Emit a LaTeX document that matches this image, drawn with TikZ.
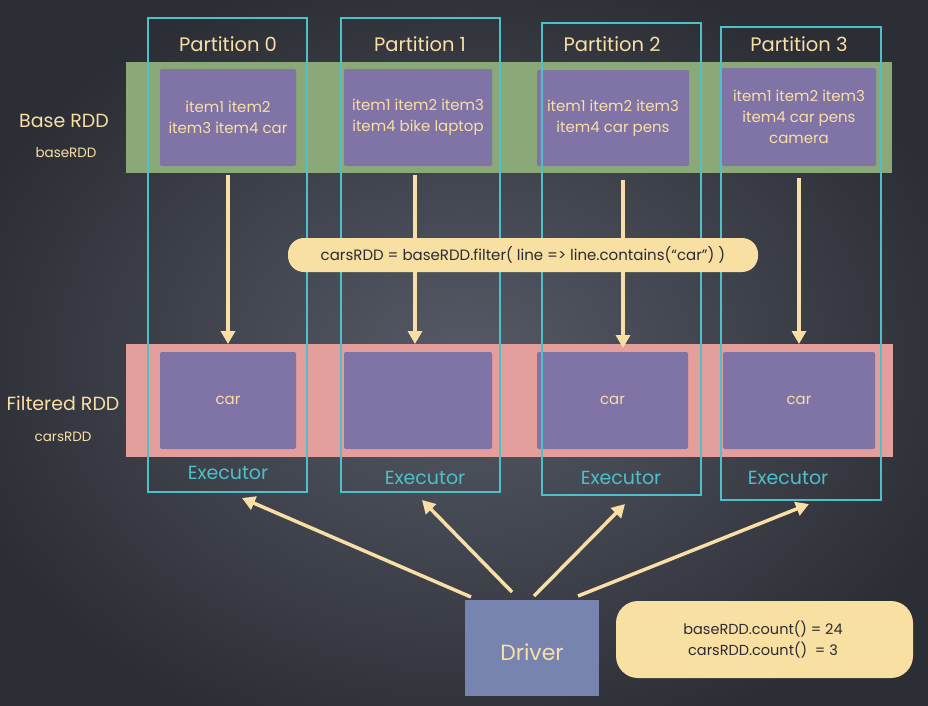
\documentclass[tikz,border=0pt]{standalone}
\usepackage{fontspec}
\setmainfont{Poppins}
\usetikzlibrary{arrows.meta}
\definecolor{bgin}{HTML}{555A66}
\definecolor{bgout}{HTML}{2C2E35}
\definecolor{greenc}{HTML}{8AA878}
\definecolor{redc}{HTML}{E49E9C}
\definecolor{cellc}{HTML}{8073A6}
\definecolor{cyanc}{HTML}{4DC0C9}
\definecolor{ytext}{HTML}{F9DFA5}
\definecolor{yfill}{HTML}{F8DFA2}
\definecolor{darktext}{HTML}{2B2B35}
\definecolor{drivec}{HTML}{7884B0}
\begin{document}
\begin{tikzpicture}[x=1pt,y=-1pt,
  band/.style={inner sep=0pt, outer sep=0pt, anchor=north west},
  cell/.style={fill=cellc, rounded corners=2pt, inner sep=0pt, outer sep=0pt, anchor=north west, align=center, text=ytext, font=\fontsize{15}{21}\selectfont},
  col/.style={draw=cyanc, line width=2.7pt, inner sep=0pt, outer sep=0pt, anchor=north west},
  ptitle/.style={text=ytext, font=\fontsize{19.5}{22}\selectfont},
  exlabel/.style={text=cyanc, font=\fontsize{19}{22}\selectfont},
  sidebig/.style={text=ytext, font=\fontsize{19}{22}\selectfont},
  sidesmall/.style={text=ytext, font=\fontsize{13.5}{16}\selectfont},
  arr/.style={draw=ytext, line width=3.5pt, -{Triangle[length=13pt,width=14pt]}},
  callout/.style={fill=yfill, text=darktext, align=center, inner sep=0pt, outer sep=0pt}
]
\useasboundingbox (0,0) rectangle (928,705);
\shade[inner color=bgin, outer color=bgout] (-60,-40) rectangle (988,760);

% bands
\node[band, fill=greenc, minimum width=766pt, minimum height=111pt] (baseband) at (126,62) {};
\node[band, fill=redc, minimum width=767pt, minimum height=113pt] (filtband) at (126,344) {};

% base cells
\node[cell, minimum width=136pt, minimum height=97pt] (b0) at (160,69) {item1 item2\\item3 item4 car};
\node[cell, minimum width=148pt, minimum height=97pt] (b1) at (344,69) {item1 item2 item3\\item4 bike laptop};
\node[cell, minimum width=152pt, minimum height=96pt] (b2) at (537,70) {item1 item2 item3\\item4 car pens};
\node[cell, minimum width=154pt, minimum height=98pt] (b3) at (722,68) {item1 item2 item3\\item4 car pens\\camera};

% filtered cells
\node[cell, minimum width=136pt, minimum height=97pt] (f0) at (160,352) {car};
\node[cell, minimum width=148pt, minimum height=97pt] (f1) at (344,352) {};
\node[cell, minimum width=151pt, minimum height=97pt] (f2) at (537,352) {car};
\node[cell, minimum width=152pt, minimum height=97pt] (f3) at (723,352) {car};

% partition columns
\node[col, minimum width=159pt, minimum height=474pt] (c0) at (148,18) {};
\node[col, minimum width=159pt, minimum height=474pt] (c1) at (341,18) {};
\node[col, minimum width=159pt, minimum height=472pt] (c2) at (542,23) {};
\node[col, minimum width=160pt, minimum height=473pt] (c3) at (721,27) {};

% titles
\node[ptitle] (t0) at (228,44) {Partition 0};
\node[ptitle] (t1) at (420,44) {Partition 1};
\node[ptitle] (t2) at (612,44) {Partition 2};
\node[ptitle] (t3) at (799,44) {Partition 3};

% executors
\node[exlabel] (e0) at (228,473) {Executor};
\node[exlabel] (e1) at (425,478) {Executor};
\node[exlabel] (e2) at (621,478) {Executor};
\node[exlabel] (e3) at (788,478) {Executor};

% side labels
\node[sidebig] (lbase) at (64,121) {Base RDD};
\node[sidesmall] (lbasevar) at (66,153) {baseRDD};
\node[sidebig] (lfilt) at (63,403) {Filtered RDD};
\node[sidesmall] (lfiltvar) at (63,437) {carsRDD};

% down arrows
\coordinate (d0s) at (228,175); \coordinate (d0e) at (228,344);
\coordinate (d1s) at (415,175); \coordinate (d1e) at (415,344);
\coordinate (d2s) at (623,180); \coordinate (d2e) at (623,348);
\coordinate (d3s) at (799,178); \coordinate (d3e) at (799,344);
\draw[arr] (d0s) -- (d0e);
\draw[arr] (d1s) -- (d1e);
\draw[arr] (d2s) -- (d2e);
\draw[arr] (d3s) -- (d3e);

% filter callout
\node[callout, minimum width=470pt, minimum height=34pt, rounded corners=16pt, font=\fontsize{15}{17}\selectfont] (filt) at (523,255) {carsRDD = baseRDD.filter( line => line.contains(“car”) )};

% driver
\node[band, fill=drivec, minimum width=134pt, minimum height=96pt] (drv) at (465,600) {};
\node[text=ytext, font=\fontsize{22}{24}\selectfont] (drvtext) at (532,652) {Driver};

% driver arrows
\coordinate (a0s) at (471,597); \coordinate (a0e) at (242,498);
\coordinate (a1s) at (512,592); \coordinate (a1e) at (422,500);
\coordinate (a2s) at (534,596); \coordinate (a2e) at (625,504);
\coordinate (a3s) at (578,596); \coordinate (a3e) at (809,504);
\draw[arr] (a0s) -- (a0e);
\draw[arr] (a1s) -- (a1e);
\draw[arr] (a2s) -- (a2e);
\draw[arr] (a3s) -- (a3e);

% count box
\node[callout, anchor=north west, minimum width=297pt, minimum height=77pt, rounded corners=22pt] (cnt) at (616,601) {};
\node[text=darktext, align=center, font=\fontsize{14.5}{21}\selectfont] (cnttext) at (763,640) {baseRDD.count() = 24\\carsRDD.count() \ = 3};
\end{tikzpicture}
\end{document}
